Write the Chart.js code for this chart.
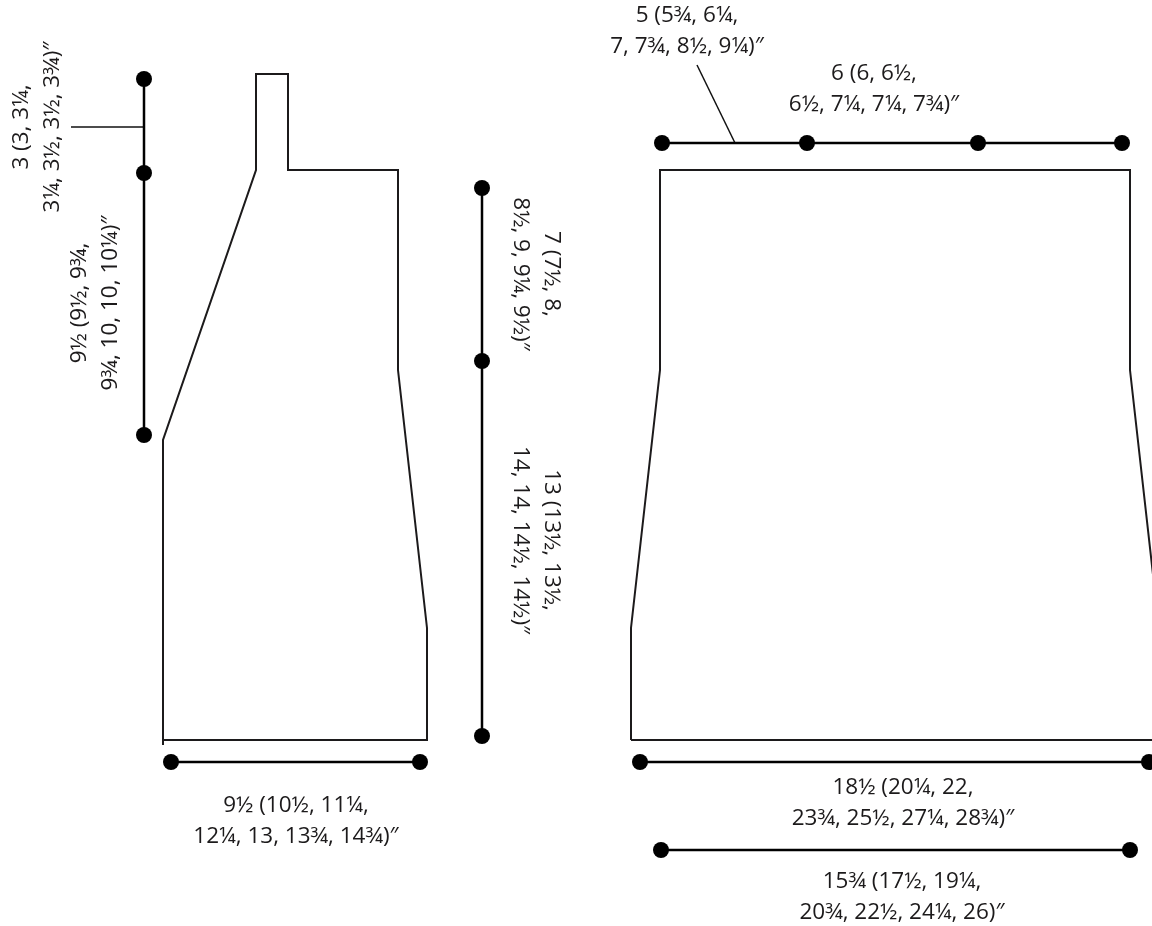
<!DOCTYPE html>
<html>
<head>
<meta charset="utf-8">
<title>Schematic</title>
<script src="https://cdn.jsdelivr.net/npm/chart.js@4"></script>
<style>
  html, body { margin: 0; padding: 0; background: #fff; }
  canvas { display: block; }
</style>
</head>
<body>
<canvas id="schematic" width="1152" height="926"></canvas>
<script>
// outline of the two garment pieces
const sideX = [163, 163, 256, 256, 288, 288, 398, 398, 427, 427, 163, 163];
const sideY = [740, 440, 170, 74, 74, 170, 170, 370, 628, 740, 740, 745];
const bodyX = [631, 631, 660, 660, 1130, 1130, 1159, 1159, 631];
const bodyY = [740, 628, 370, 170, 170, 370, 628, 740, 740];

// measure lines, dots sit on every point
const neckX = [144, 144, 144];
const neckY = [79, 173, 435];
const lengthX = [482, 482, 482];
const lengthY = [188, 361, 736];
const sideHemX = [171, 420];
const sideHemY = [762, 762];
const shoulderX = [662, 807, 978, 1122];
const shoulderY = [143, 143, 143, 143];
const hemX = [640, 1149];
const hemY = [762, 762];
const waistX = [661, 1130];
const waistY = [850, 850];

// thin leader lines
const leader1X = [71, 144];
const leader1Y = [127, 127];
const leader2X = [697, 735];
const leader2Y = [65, 143];

const labelLines = [
  ['3 (3, 3¼,', '3¼, 3½, 3½, 3¾)″'],
  ['9½ (9½, 9¾,', '9¾, 10, 10, 10¼)″'],
  ['7 (7½, 8,', '8½, 9, 9¼, 9½)″'],
  ['13 (13½, 13½,', '14, 14, 14½, 14½)″'],
  ['9½ (10½, 11¼,', '12¼, 13, 13¾, 14¾)″'],
  ['5 (5¾, 6¼,', '7, 7¾, 8½, 9¼)″'],
  ['6 (6, 6½,', '6½, 7¼, 7¼, 7¾)″'],
  ['18½ (20¼, 22,', '23¾, 25½, 27¼, 28¾)″'],
  ['15¾ (17½, 19¼,', '20¾, 22½, 24¼, 26)″']
];
// where each label block is centred, and how it is turned
const labelX = [37, 95, 536, 536, 296, 687, 874, 903, 902];
const labelY = [127, 303, 274, 540, 821, 31, 89, 803, 897];
const labelTurn = [-90, -90, 90, 90, 0, 0, 0, 0, 0];

function pts(xs, ys) {
  return xs.map((x, i) => ({ x: x, y: ys[i] }));
}

function outline(xs, ys) {
  return { data: pts(xs, ys), showLine: true, borderColor: '#1c1a1b', borderWidth: 2, pointRadius: 0, borderJoinStyle: 'miter', borderCapStyle: 'butt' };
}

function measure(xs, ys) {
  return { data: pts(xs, ys), showLine: true, borderColor: '#000', borderWidth: 2.5, pointRadius: 8, pointBackgroundColor: '#000', pointBorderWidth: 0 };
}

function leader(xs, ys) {
  return { data: pts(xs, ys), showLine: true, borderColor: '#111', borderWidth: 1.5, pointRadius: 0 };
}

// Chart.js has no free text, so the labels go in through a small plugin
const labelPlugin = {
  id: 'labels',
  afterDatasetsDraw(chart) {
    const ctx = chart.ctx;
    const sx = chart.scales.x;
    const sy = chart.scales.y;
    ctx.save();
    ctx.font = '22.5px "Open Sans"';
    ctx.fillStyle = '#1c1a1b';
    ctx.textAlign = 'center';
    ctx.textBaseline = 'middle';
    labelLines.forEach((lines, i) => {
      ctx.save();
      ctx.translate(sx.getPixelForValue(labelX[i]), sy.getPixelForValue(labelY[i]));
      ctx.rotate(labelTurn[i] * Math.PI / 180);
      ctx.fillText(lines[0], 0, -15.5);
      ctx.fillText(lines[1], 0, 15.5);
      ctx.restore();
    });
    ctx.restore();
  }
};

new Chart(document.getElementById('schematic'), {
  type: 'scatter',
  data: {
    datasets: [
      outline(sideX, sideY),
      outline(bodyX, bodyY),
      measure(neckX, neckY),
      measure(lengthX, lengthY),
      measure(sideHemX, sideHemY),
      measure(shoulderX, shoulderY),
      measure(hemX, hemY),
      measure(waistX, waistY),
      leader(leader1X, leader1Y),
      leader(leader2X, leader2Y)
    ]
  },
  options: {
    responsive: false,
    animation: false,
    devicePixelRatio: 1,
    layout: { padding: 0, autoPadding: false },
    plugins: { legend: { display: false }, tooltip: { enabled: false } },
    scales: {
      x: { type: 'linear', display: false, min: 0, max: 1152 },
      y: { type: 'linear', display: false, min: 0, max: 926, reverse: true }
    }
  },
  plugins: [labelPlugin]
});
</script>
</body>
</html>
